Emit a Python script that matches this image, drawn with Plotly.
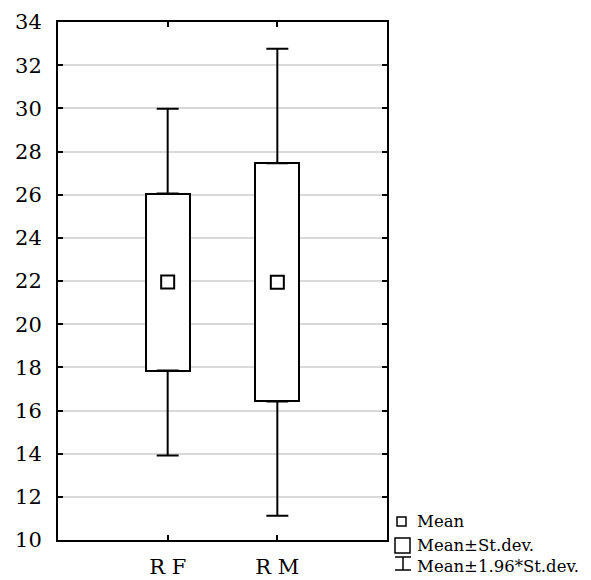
import plotly.graph_objects as go

categories = ["R F", "R M"]
means = [21.95, 21.94]
sds = [4.10, 5.52]
factor = 1.96
y_ticks = [10, 12, 14, 16, 18, 20, 22, 24, 26, 28, 30, 32, 34]

lo_box = [m - s for m, s in zip(means, sds)]
hi_box = [m + s for m, s in zip(means, sds)]
box_h = [2 * s for s in sds]
whisk_ext = [(factor - 1) * s for s in sds]

FONT = "DejaVu Serif"
fig = go.Figure()

# box: mean ± sd
fig.add_trace(go.Bar(x=categories, y=box_h, base=lo_box, width=0.4,
                     marker=dict(color="white", line=dict(color="black", width=2)),
                     showlegend=False, hoverinfo="skip"))
# upper whiskers
fig.add_trace(go.Scatter(x=categories, y=hi_box, mode="markers",
                         marker=dict(size=1, color="rgba(0,0,0,0)"),
                         error_y=dict(type="data", symmetric=False, array=whisk_ext,
                                      arrayminus=[0, 0], color="black", thickness=2, width=11),
                         showlegend=False, hoverinfo="skip"))
# lower whiskers
fig.add_trace(go.Scatter(x=categories, y=lo_box, mode="markers",
                         marker=dict(size=1, color="rgba(0,0,0,0)"),
                         error_y=dict(type="data", symmetric=False, array=[0, 0],
                                      arrayminus=whisk_ext, color="black", thickness=2, width=11),
                         showlegend=False, hoverinfo="skip"))
# mean markers
fig.add_trace(go.Scatter(x=categories, y=means, mode="markers",
                         marker=dict(symbol="square-open", size=13, color="black",
                                     line=dict(width=2, color="black")),
                         showlegend=False, hoverinfo="skip"))

fig.update_xaxes(type="category", range=[-1, 2], showline=True, linecolor="black",
                 linewidth=2, mirror="ticks", ticks="inside", ticklen=5, tickwidth=2,
                 tickcolor="black", showgrid=False, zeroline=False, automargin=False,
                 tickfont=dict(family=FONT, size=21, color="black"), ticklabelstandoff=7)
fig.update_yaxes(range=[10, 34], tickvals=y_ticks, showline=True, linecolor="black",
                 linewidth=2, mirror="ticks", ticks="inside", ticklen=5, tickwidth=2,
                 tickcolor="black", showgrid=True, gridcolor="#d9d9d9", gridwidth=2,
                 zeroline=False, automargin=False,
                 tickfont=dict(family=FONT, size=21, color="black"),
                 ticklabelstandoff=10)

# legend (paper coordinates)
W, H = 591, 580
ml, mr, mt, mb = 58, 204, 22, 40
pw, ph = W - ml - mr, H - mt - mb
def px(x):
    return (x - ml) / pw
def py(y):
    return (H - mb - y) / ph

shapes = [
    dict(type="rect", xref="paper", yref="paper", x0=px(397), x1=px(406), y0=py(526), y1=py(517),
         line=dict(color="black", width=1.5), fillcolor="white"),
    dict(type="rect", xref="paper", yref="paper", x0=px(395), x1=px(410), y0=py(553), y1=py(538),
         line=dict(color="black", width=1.5), fillcolor="white"),
    dict(type="line", xref="paper", yref="paper", x0=px(395), x1=px(411), y0=py(557), y1=py(557),
         line=dict(color="black", width=1.5)),
    dict(type="line", xref="paper", yref="paper", x0=px(395), x1=px(411), y0=py(570), y1=py(570),
         line=dict(color="black", width=1.5)),
    dict(type="line", xref="paper", yref="paper", x0=px(403), x1=px(403), y0=py(557), y1=py(570),
         line=dict(color="black", width=1.5)),
]
labels = ["Mean", "Mean±St.dev.", "Mean±1.96*St.dev."]
label_y = [521, 545, 566]
annotations = [dict(text=t, xref="paper", yref="paper", x=px(415), y=py(yy), xanchor="left",
                    yanchor="middle", showarrow=False,
                    font=dict(family=FONT, size=16.5, color="black"))
               for t, yy in zip(labels, label_y)]

fig.update_layout(width=W, height=H, margin=dict(l=ml, r=mr, t=mt, b=mb, autoexpand=False),
                  plot_bgcolor="white", paper_bgcolor="white", shapes=shapes,
                  annotations=annotations, bargap=0, showlegend=False)

fig.write_html("out.html", config={"displayModeBar": False},
               post_script="document.body.style.margin='0';")
